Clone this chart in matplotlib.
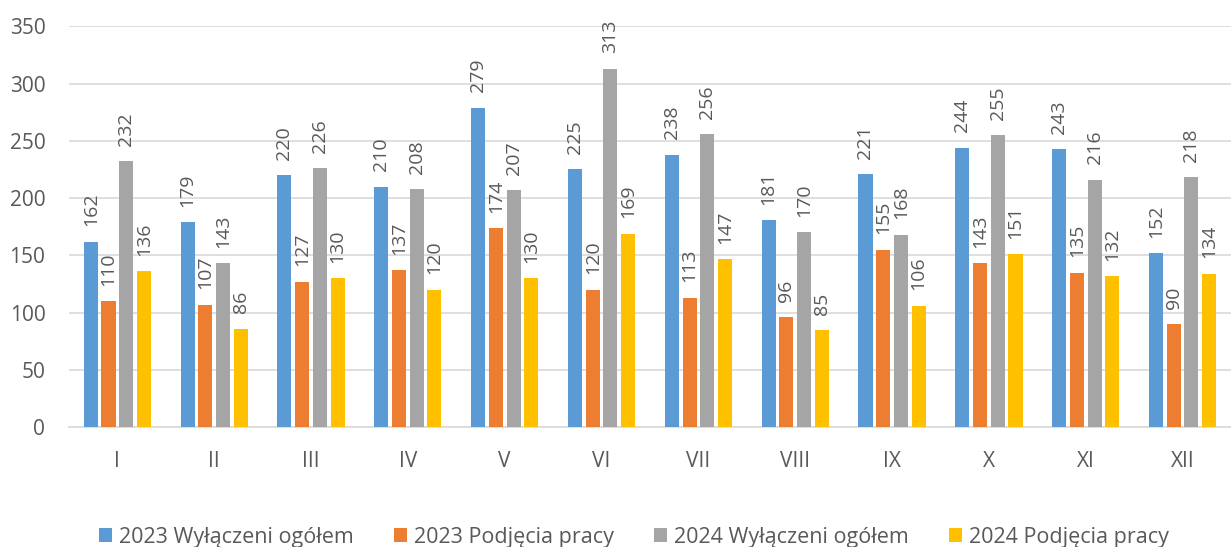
import matplotlib.pyplot as plt
import numpy as np

plt.rcParams["font.family"] = ["Open Sans", "DejaVu Sans"]

TEXT_COLOR = "#595959"
GRID_COLOR = "#d9d9d9"

months = ["I", "II", "III", "IV", "V", "VI", "VII", "VIII", "IX", "X", "XI", "XII"]
wyl_2023 = [162, 179, 220, 210, 279, 225, 238, 181, 221, 244, 243, 152]
podj_2023 = [110, 107, 127, 137, 174, 120, 113, 96, 155, 143, 135, 90]
wyl_2024 = [232, 143, 226, 208, 207, 313, 256, 170, 168, 255, 216, 218]
podj_2024 = [136, 86, 130, 120, 130, 169, 147, 85, 106, 151, 132, 134]

series = [
    ("2023 Wyłączeni ogółem", wyl_2023, "#5b9bd5"),
    ("2023 Podjęcia pracy", podj_2023, "#ed7d31"),
    ("2024 Wyłączeni ogółem", wyl_2024, "#a5a5a5"),
    ("2024 Podjęcia pracy", podj_2024, "#ffc000"),
]

fig = plt.figure(figsize=(12.31, 5.47), dpi=100)
ax = fig.add_axes([0.056, 0.219, 0.944, 0.733])

x = np.arange(len(months))
step = 0.183
width = 0.145

for i, (name, vals, color) in enumerate(series):
    pos = x + (i - 1.5) * step
    ax.bar(pos, vals, width=width, color=color, label=name, zorder=3)
    for px, v in zip(pos, vals):
        ax.annotate(str(v), (px, v), xytext=(0, 11), textcoords="offset points",
                    rotation=90, ha="center", va="bottom",
                    fontsize=14, color=TEXT_COLOR)

ax.set_xlim(-0.5, len(months) - 0.5)
ax.set_ylim(0, 350)
ax.set_yticks(range(0, 351, 50))
ax.set_xticks(x)
ax.set_xticklabels(months)
ax.tick_params(length=0, colors=TEXT_COLOR, labelsize=15)
ax.tick_params(axis="x", pad=17)
ax.tick_params(axis="y", pad=17)

ax.grid(axis="y", color=GRID_COLOR, linewidth=1.2, zorder=0)
for side in ["top", "right", "left"]:
    ax.spines[side].set_visible(False)
ax.spines["bottom"].set_color(GRID_COLOR)
ax.spines["bottom"].set_linewidth(1.2)

fig.legend(loc="lower center", ncol=4, frameon=False, bbox_to_anchor=(0.515, -0.037),
           fontsize=15.5, handlelength=0.6, handleheight=0.6, handletextpad=0.3,
           columnspacing=1.9, labelcolor=TEXT_COLOR)

fig.savefig("out.png", dpi=100)
